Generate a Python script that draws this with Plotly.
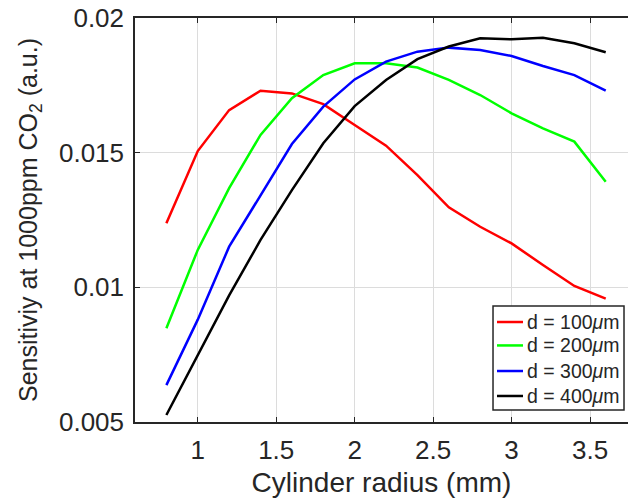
import plotly.graph_objects as go

radius = [0.8, 1.0, 1.2, 1.4, 1.6, 1.8, 2.0, 2.2, 2.4, 2.6, 2.8, 3.0, 3.2, 3.4, 3.6]

d100 = [0.01238, 0.01506, 0.01658, 0.01730, 0.01720, 0.01680, 0.01603, 0.01526, 0.01417, 0.01297,
        0.01225, 0.01163, 0.01083, 0.01005, 0.00958]
d200 = [0.00848, 0.01139, 0.01368, 0.01566, 0.01702, 0.01788, 0.01832, 0.01832, 0.01816, 0.01770,
        0.01714, 0.01646, 0.01590, 0.01541, 0.01392]
d300 = [0.00637, 0.00880, 0.01151, 0.01343, 0.01532, 0.01671, 0.01772, 0.01838, 0.01875, 0.01890,
        0.01881, 0.01859, 0.01822, 0.01788, 0.01730]
d400 = [0.00526, 0.00750, 0.00970, 0.01176, 0.01361, 0.01535, 0.01673, 0.01770, 0.01847, 0.01894,
        0.01925, 0.01921, 0.01927, 0.01906, 0.01873]

series_names = ["d = 100<i>μ</i>m", "d = 200<i>μ</i>m", "d = 300<i>μ</i>m", "d = 400<i>μ</i>m"]
series_colors = ["#ff0000", "#00ff00", "#0000ff", "#000000"]

x_ticks = [1, 1.5, 2, 2.5, 3, 3.5]
y_ticks = [0.005, 0.01, 0.015, 0.02]
y_tick_text = ["0.005", "0.01", "0.015", "0.02"]

FONT = "Arial, Liberation Sans, Helvetica, sans-serif"
AX = "#262626"

fig = go.Figure()
for name, vals, col in zip(series_names, [d100, d200, d300, d400], series_colors):
    fig.add_trace(go.Scatter(x=radius, y=vals, mode="lines", name=name,
                             line=dict(color=col, width=2.5), showlegend=False))

# Legend box (MATLAB-style, compact), placed in paper coordinates
leg_x0, leg_x1 = 0.7262, 0.9919
leg_y0, leg_y1 = 0.0297, 0.2871
row_y = [0.2475, 0.1895, 0.1262, 0.0644]
key_x0, key_x1 = 0.7343, 0.7870
txt_x = 0.7920

shapes = [dict(type="rect", xref="paper", yref="paper", x0=leg_x0, x1=leg_x1, y0=leg_y0, y1=leg_y1,
               fillcolor="white", line=dict(color=AX, width=1.5), layer="above")]
annotations = []
for name, col, ry in zip(series_names, series_colors, row_y):
    shapes.append(dict(type="line", xref="paper", yref="paper", x0=key_x0, x1=key_x1, y0=ry, y1=ry,
                       line=dict(color=col, width=2.5), layer="above"))
    annotations.append(dict(text=name, xref="paper", yref="paper", x=txt_x, y=ry,
                            xanchor="left", yanchor="middle", showarrow=False,
                            font=dict(family=FONT, size=19.5, color=AX)))

fig.update_layout(
    width=628, height=504,
    margin=dict(l=135, r=0, t=18, b=82),
    paper_bgcolor="white", plot_bgcolor="white",
    font=dict(family=FONT, size=26, color=AX),
    showlegend=False,
    shapes=shapes,
    annotations=annotations,
)
fig.update_xaxes(
    range=[0.6, 3.742], tickvals=x_ticks, ticktext=[str(v) for v in x_ticks],
    ticks="inside", ticklen=5, tickwidth=1.2, tickcolor=AX,
    showline=True, linecolor=AX, linewidth=1.5, mirror="ticks",
    showgrid=True, gridcolor="#dcdcdc", gridwidth=1, zeroline=False,
    tickfont=dict(size=26, color=AX), ticklabelstandoff=4,
    title=dict(text="Cylinder radius (mm)", font=dict(size=28, color=AX), standoff=8),
)
fig.update_yaxes(
    range=[0.005, 0.02], tickvals=y_ticks, ticktext=y_tick_text,
    ticks="inside", ticklen=5, tickwidth=1.2, tickcolor=AX,
    showline=True, linecolor=AX, linewidth=1.5, mirror=False,
    showgrid=True, gridcolor="#dcdcdc", gridwidth=1, zeroline=False,
    tickfont=dict(size=26, color=AX), ticklabelstandoff=4,
    title=dict(text="Sensitiviy at 1000ppm CO<sub>2</sub> (a.u.)", font=dict(size=25, color=AX), standoff=14),
)

fig.write_html("out.html")
